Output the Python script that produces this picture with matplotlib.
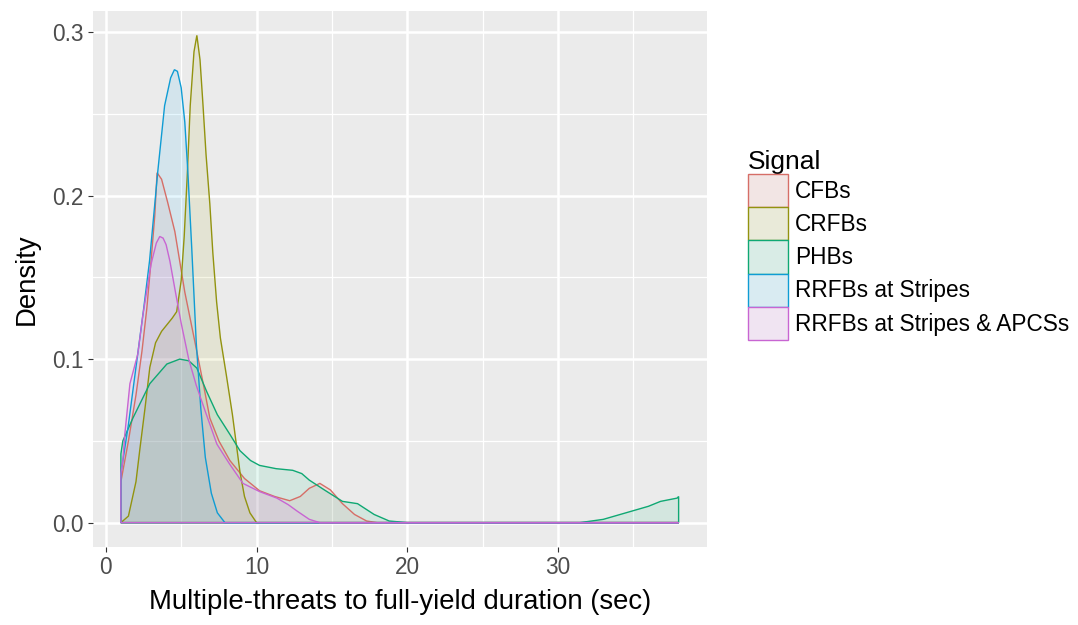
import numpy as np
import matplotlib
matplotlib.use("Agg")
import matplotlib.pyplot as plt
from matplotlib.patches import Patch, Rectangle
from matplotlib.legend_handler import HandlerTuple
from matplotlib.colors import to_rgb, to_rgba

plt.rcParams['font.family'] = ['Liberation Sans', 'DejaVu Sans']

# density curves (x in sec, y = density)
signals = ['CFBs', 'CRFBs', 'PHBs', 'RRFBs at Stripes', 'RRFBs at Stripes & APCSs']
colors = ['#F8766D', '#A3A500', '#00BF7D', '#00B0F6', '#E76BF3']
x_range = [1.0, 38.0]

cfb_x = [1.0, 1.5, 2.0, 2.4, 2.72, 3.0, 3.25, 3.4, 3.7, 4.1, 4.58, 5.24, 5.9, 6.57, 6.9, 7.5,
         8.23, 9.2, 10.2, 11.2, 12.2, 12.9, 13.5, 14.2, 14.9, 15.7, 16.5, 17.3, 18.0]
cfb_y = [0.025, 0.05, 0.078, 0.105, 0.131, 0.16, 0.188, 0.214, 0.21, 0.196, 0.178, 0.141, 0.111,
         0.08, 0.064, 0.05, 0.038, 0.027, 0.0195, 0.016, 0.0134, 0.016, 0.021, 0.024, 0.02, 0.0116,
         0.005, 0.001, 0.0]

crfb_x = [1.0, 1.5, 2.0, 2.26, 2.6, 2.92, 3.3, 3.7, 4.05, 4.4, 4.7, 5.0, 5.2, 5.4, 5.6, 5.85,
          6.04, 6.25, 6.45, 6.65, 6.9, 7.1, 7.35, 7.6, 8.0, 8.4, 8.9, 9.2, 9.56, 10.0]
crfb_y = [0.0, 0.004, 0.025, 0.045, 0.07, 0.095, 0.11, 0.117, 0.121, 0.125, 0.129, 0.148, 0.175,
          0.212, 0.255, 0.288, 0.298, 0.283, 0.255, 0.225, 0.195, 0.165, 0.135, 0.113, 0.09, 0.066,
          0.031, 0.016, 0.006, 0.0]

phb_x = [1.0, 1.13, 1.8, 2.92, 4.05, 4.9, 5.5, 6.04, 6.7, 7.4, 8.23, 8.9, 9.6, 10.2, 11.3, 12.4,
         13.0, 13.5, 14.5, 15.7, 16.7, 17.8, 18.8, 20.0, 31.45, 33.0, 34.5, 36.0, 36.8, 37.9, 38.0]
phb_y = [0.042, 0.05, 0.064, 0.085, 0.097, 0.1, 0.099, 0.0945, 0.08, 0.066, 0.054, 0.044, 0.038,
         0.035, 0.033, 0.032, 0.03, 0.026, 0.02, 0.013, 0.0116, 0.005, 0.001, 0.0, 0.0, 0.002,
         0.006, 0.01, 0.013, 0.015, 0.016]

rrfb_x = [1.0, 1.5, 2.0, 2.5, 2.9, 3.2, 3.45, 3.9, 4.3, 4.55, 4.75, 5.0, 5.24, 5.44, 5.7, 6.0,
          6.3, 6.6, 7.0, 7.4, 7.9]
rrfb_y = [0.03, 0.06, 0.095, 0.13, 0.16, 0.19, 0.215, 0.255, 0.272, 0.277, 0.276, 0.266, 0.245,
          0.215, 0.168, 0.11, 0.07, 0.04, 0.018, 0.006, 0.0]

apcs_x = [1.0, 1.13, 1.26, 1.6, 2.12, 2.46, 3.0, 3.35, 3.58, 3.8, 4.0, 4.25, 4.6, 5.0, 5.5, 6.0,
          6.6, 7.37, 8.2, 9.1, 10.2, 11.35, 12.1, 12.7, 13.5, 14.2]
apcs_y = [0.03, 0.038, 0.054, 0.085, 0.103, 0.127, 0.158, 0.171, 0.175, 0.174, 0.17, 0.16, 0.142,
          0.122, 0.1, 0.084, 0.068, 0.048, 0.036, 0.024, 0.019, 0.015, 0.011, 0.007, 0.002, 0.0]

curves = [(cfb_x, cfb_y), (crfb_x, crfb_y), (phb_x, phb_y), (rrfb_x, rrfb_y), (apcs_x, apcs_y)]


def line_col(c):
    # outlines in the reference look a little duller than the pure hue palette
    r, g, b = to_rgb(c)
    return (0.8*r + 0.2*0.3, 0.8*g + 0.2*0.3, 0.8*b + 0.2*0.3)


fig = plt.figure(figsize=(10.78, 6.25), dpi=100)
ax = fig.add_axes([93/1078, 1 - 547/625, (706.5 - 93)/1078, (547 - 11)/625])
ax.set_facecolor('#EBEBEB')

for (cx, cy), col in zip(curves, colors):
    # closed outline like geom_density: baseline spans the full data range
    px = [x_range[0]] + list(cx) + [x_range[1], x_range[1]]
    py = [0.0] + list(cy) + [cy[-1] if cx[-1] == x_range[1] else 0.0, 0.0]
    ax.fill(px, py, facecolor=col, alpha=0.1, zorder=2)
    ax.fill(px, py, facecolor='none', edgecolor=line_col(col), linewidth=1.0, zorder=3)

ax.set_xlim(-0.85, 39.85)
ax.set_ylim(-0.0149, 0.3129)
ax.set_xticks([0, 10, 20, 30])
ax.set_yticks([0.0, 0.1, 0.2, 0.3])
ax.set_yticklabels(['0.0', '0.1', '0.2', '0.3'])
ax.set_xticks([5, 15, 25, 35], minor=True)
ax.set_yticks([0.05, 0.15, 0.25], minor=True)
ax.grid(which='major', color='white', linewidth=1.8)
ax.grid(which='minor', color='white', linewidth=0.9)
ax.set_axisbelow(True)
for s in ax.spines.values():
    s.set_visible(False)
ax.tick_params(which='major', length=3.6, width=0.8, color='#333333',
               labelsize=16.3, labelcolor='#4D4D4D', pad=3)
ax.tick_params(which='minor', length=0)

ax.set_xlabel('Multiple-threats to full-yield duration (sec)', fontsize=19.8, labelpad=7)
ax.set_ylabel('Density', fontsize=19.8, labelpad=9)

handles = [(Rectangle((0, 0), 1, 1, facecolor='#F2F2F2', edgecolor='none'),
            Patch(facecolor=to_rgba(c, 0.1), edgecolor=line_col(c), linewidth=1.0))
           for c in colors]
leg = fig.legend(handles, signals, title='Signal', loc='upper left',
                 bbox_to_anchor=(748/1078, 1 - 150/625), frameon=False,
                 fontsize=16.3, title_fontsize=19, handlelength=1.77, handleheight=1.88,
                 labelspacing=0, handletextpad=0.3, borderpad=0, borderaxespad=0,
                 alignment='left', handler_map={tuple: HandlerTuple(ndivide=1, pad=0)})

fig.savefig('out.png', dpi=100)
